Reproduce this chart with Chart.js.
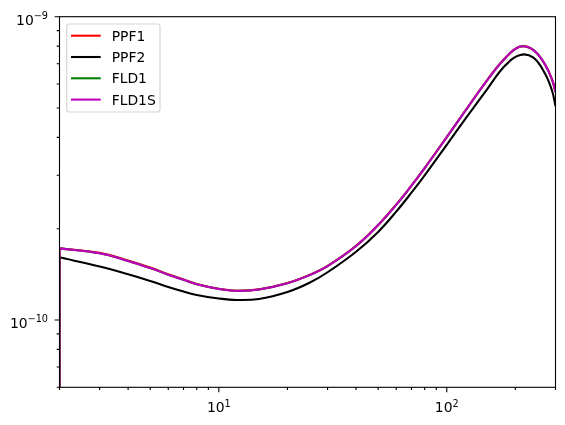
<!DOCTYPE html>
<html>
<head>
<meta charset="utf-8">
<script src="https://cdn.jsdelivr.net/npm/chart.js@4.4.1/dist/chart.umd.min.js"></script>
<style>
  html, body { margin: 0; padding: 0; background: #fff; }
  canvas { display: block; }
</style>
</head>
<body>
<canvas id="myChart" width="565" height="425"></canvas>
<script>
// x values; the first point is repeated because every curve drops to ~0 at x = 2
var xVals = [2, 2, 3, 4, 5, 6, 7, 8, 10, 12, 15, 20, 25, 30, 40, 50, 60, 70, 80, 100,
             120, 150, 180, 210, 240, 270, 290, 300];

var ppf1 = [1e-12, 1.725e-10, 1.665e-10, 1.571e-10, 1.489e-10, 1.415e-10, 1.360e-10, 1.314e-10,
            1.267e-10, 1.249e-10, 1.262e-10, 1.324e-10, 1.407e-10, 1.507e-10, 1.755e-10, 2.058e-10,
            2.400e-10, 2.774e-10, 3.169e-10, 4.009e-10, 4.872e-10, 6.160e-10, 7.290e-10, 7.972e-10,
            7.768e-10, 6.956e-10, 6.189e-10, 5.650e-10];
var ppf2 = [1e-12, 1.609e-10, 1.501e-10, 1.415e-10, 1.345e-10, 1.285e-10, 1.241e-10, 1.209e-10,
            1.177e-10, 1.164e-10, 1.173e-10, 1.237e-10, 1.327e-10, 1.437e-10, 1.679e-10, 1.952e-10,
            2.276e-10, 2.629e-10, 2.999e-10, 3.781e-10, 4.578e-10, 5.754e-10, 6.887e-10, 7.478e-10,
            7.326e-10, 6.484e-10, 5.689e-10, 5.076e-10];
var fld1 = [1e-12, 1.723e-10, 1.659e-10, 1.565e-10, 1.483e-10, 1.411e-10, 1.357e-10, 1.312e-10,
            1.266e-10, 1.248e-10, 1.261e-10, 1.323e-10, 1.406e-10, 1.506e-10, 1.754e-10, 2.056e-10,
            2.398e-10, 2.772e-10, 3.167e-10, 4.006e-10, 4.869e-10, 6.157e-10, 7.286e-10, 7.968e-10,
            7.764e-10, 6.952e-10, 6.185e-10, 5.647e-10];
var fld1s = [1e-12, 1.723e-10, 1.659e-10, 1.565e-10, 1.483e-10, 1.411e-10, 1.357e-10, 1.312e-10,
             1.266e-10, 1.248e-10, 1.261e-10, 1.323e-10, 1.406e-10, 1.506e-10, 1.754e-10, 2.056e-10,
             2.398e-10, 2.772e-10, 3.167e-10, 4.006e-10, 4.869e-10, 6.157e-10, 7.286e-10, 7.968e-10,
             7.764e-10, 6.952e-10, 6.185e-10, 5.647e-10];

var names = ['PPF1', 'PPF2', 'FLD1', 'FLD1S'];
var colors = ['#ff0000', '#000000', '#008000', '#bf00bf'];

// ticks and tick labels
var xMajor = [10, 100];
var xMajorExp = ['1', '2'];
var xMinor = [2, 3, 4, 5, 6, 7, 8, 9, 20, 30, 40, 50, 60, 70, 80, 90, 200, 300];
var yMajor = [1e-10, 1e-9];
var yMajorExp = ['\u221210', '\u22129'];
var yMinor = [6e-11, 7e-11, 8e-11, 9e-11, 2e-10, 3e-10, 4e-10, 5e-10, 6e-10, 7e-10, 8e-10, 9e-10];

function pts(ys, from, to) {
  return xVals.slice(from, to).map(function (x, i) { return { x: x, y: ys[from + i] }; });
}

var FONT = '"DejaVu Sans", sans-serif';

// draws "10" with a superscript exponent
function drawPow(ctx, exp, x, baseline, align) {
  ctx.font = '13.9px ' + FONT;
  var wb = ctx.measureText('10').width;
  ctx.font = '9.7px ' + FONT;
  var we = ctx.measureText(exp).width;
  var start = align === 'right' ? x - wb - we : x - (wb + we) / 2;
  ctx.textAlign = 'left';
  ctx.textBaseline = 'alphabetic';
  ctx.font = '13.9px ' + FONT;
  ctx.fillText('10', start, baseline);
  ctx.font = '9.7px ' + FONT;
  ctx.fillText(exp, start + wb, baseline - 5.6);
}

// axes frame, ticks, labels and legend in matplotlib style
var frame = {
  id: 'frame',
  afterDraw: function (chart) {
    var ctx = chart.ctx, a = chart.chartArea;
    var xs = chart.scales.x, ys = chart.scales.y;
    ctx.save();
    ctx.strokeStyle = '#000';
    ctx.fillStyle = '#000';
    ctx.lineWidth = 1.1;
    ctx.strokeRect(a.left, a.top, a.right - a.left, a.bottom - a.top);

    ctx.beginPath();
    xMinor.forEach(function (v) {
      var p = xs.getPixelForValue(v);
      ctx.moveTo(p, a.bottom); ctx.lineTo(p, a.bottom + 2.8);
    });
    xMajor.forEach(function (v) {
      var p = xs.getPixelForValue(v);
      ctx.moveTo(p, a.bottom); ctx.lineTo(p, a.bottom + 4.9);
    });
    yMinor.forEach(function (v) {
      var p = ys.getPixelForValue(v);
      ctx.moveTo(a.left, p); ctx.lineTo(a.left - 2.8, p);
    });
    yMajor.forEach(function (v) {
      var p = ys.getPixelForValue(v);
      ctx.moveTo(a.left, p); ctx.lineTo(a.left - 4.9, p);
    });
    ctx.stroke();

    xMajor.forEach(function (v, i) {
      drawPow(ctx, xMajorExp[i], xs.getPixelForValue(v), a.bottom + 25, 'center');
    });
    yMajor.forEach(function (v, i) {
      drawPow(ctx, yMajorExp[i], a.left - 11.5, ys.getPixelForValue(v) + 8, 'right');
    });

    // legend box
    ctx.beginPath();
    ctx.roundRect(a.left + 7.2, a.top + 7.3, 93.3, 88, 2.8);
    ctx.fillStyle = 'rgba(255,255,255,0.8)';
    ctx.fill();
    ctx.strokeStyle = '#d6d6d6';
    ctx.lineWidth = 1.2;
    ctx.stroke();

    ctx.font = '13.9px ' + FONT;
    ctx.textAlign = 'left';
    ctx.textBaseline = 'alphabetic';
    names.forEach(function (n, i) {
      var cy = a.top + 19 + i * 21.3;
      ctx.beginPath();
      ctx.strokeStyle = colors[i];
      ctx.lineWidth = 2.08;
      ctx.moveTo(a.left + 11.5, cy);
      ctx.lineTo(a.left + 41.2, cy);
      ctx.stroke();
      ctx.fillStyle = '#000';
      ctx.fillText(n, a.left + 52.2, cy + 5);
    });
    ctx.restore();
  }
};

var series = [ppf1, ppf2, fld1, fld1s];
var datasets = [];

// each series: a smooth curve, plus the straight drop at x = 2
series.forEach(function (s, i) {
  var common = {
    label: names[i],
    borderColor: colors[i],
    borderWidth: 2.08,
    borderJoinStyle: 'round',
    pointRadius: 0,
    fill: false,
    order: 4 - i
  };
  datasets.push(Object.assign({}, common, { data: pts(s, 1), tension: 0.4 }));
  datasets.push(Object.assign({}, common, { data: pts(s, 0, 2), tension: 0 }));
});

var ctx = document.getElementById('myChart').getContext('2d');

var myChart = new Chart(ctx, {
  type: 'line',
  data: { datasets: datasets },
  options: {
    responsive: false,
    devicePixelRatio: 1,
    animation: false,
    layout: { padding: { left: 59.5, top: 16.7, right: 9.5, bottom: 37.7 } },
    scales: {
      x: { type: 'logarithmic', min: 2, max: 300, display: false },
      y: { type: 'logarithmic', min: 6e-11, max: 1e-9, display: false }
    },
    plugins: {
      legend: { display: false },
      tooltip: { enabled: false }
    }
  },
  plugins: [frame]
});
</script>
</body>
</html>
